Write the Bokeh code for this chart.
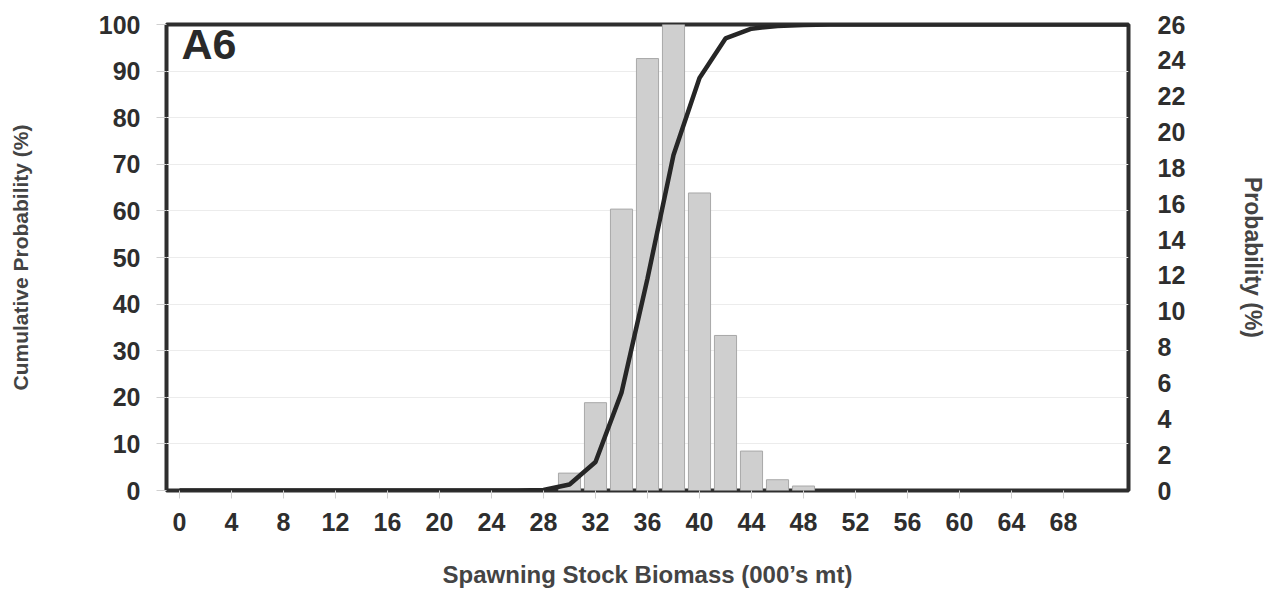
from bokeh.plotting import figure
from bokeh.models import Range1d, LinearAxis, Label, FixedTicker
from bokeh.embed import file_html
from bokeh.resources import INLINE

# ---- data ----
bin_biomass = [30, 32, 34, 36, 38, 40, 42, 44, 46, 48]
probability = [0.97, 4.9, 15.7, 24.1, 26.0, 16.6, 8.65, 2.2, 0.6, 0.25]

cum_biomass = [0, 2, 4, 6, 8, 10, 12, 14, 16, 18, 20, 22, 24, 26, 28, 30, 32, 34, 36, 38,
               40, 42, 44, 46, 48, 50, 52, 54, 56, 58, 60, 62, 64, 66, 68, 70, 72, 73]
cum_prob = [0, 0, 0, 0, 0, 0, 0, 0, 0, 0, 0, 0, 0, 0, 0.1, 1.3, 6.1, 21.0, 45.5, 72.0,
            88.5, 97.0, 99.1, 99.7, 99.9, 100, 100, 100, 100, 100, 100, 100, 100, 100, 100, 100, 100, 100]

x_ticks = list(range(0, 69, 4))
left_ticks = list(range(0, 101, 10))
right_ticks = list(range(0, 27, 2))

panel_label = "A6"
x_title = "Spawning Stock Biomass (000\u2019s mt)"
left_title = "Cumulative Probability (%)"
right_title = "Probability (%)"

FONT = "Liberation Sans"
TXT = "#2e2e2e"

p = figure(width=1276, height=598, output_backend="svg", toolbar_location=None,
           x_range=Range1d(-1, 73), y_range=Range1d(0, 100),
           min_border_left=166, min_border_right=148, min_border_top=24, min_border_bottom=108)
p.extra_y_ranges = {"prob": Range1d(0, 26)}

p.outline_line_color = "#2e2e2e"
p.outline_line_width = 4
p.xgrid.grid_line_color = None
p.ygrid.grid_line_color = "#ececec"
p.ygrid.ticker = FixedTicker(ticks=left_ticks)
p.background_fill_color = "white"
p.border_fill_color = "white"

# bars
p.vbar(x=bin_biomass, top=probability, width=1.7, bottom=0, y_range_name="prob",
       fill_color="#cfcfcf", line_color="#a8a8a8", line_width=1)

# cumulative line
p.line(cum_biomass, cum_prob, line_color="#262626", line_width=4.5)

# axes styling
def style(ax, size="25px", title_size="24px"):
    ax.axis_line_color = None
    ax.major_label_text_font = FONT
    ax.major_label_text_font_style = "bold"
    ax.major_label_text_font_size = size
    ax.major_label_text_color = TXT
    ax.minor_tick_line_color = None
    ax.axis_label_text_font = FONT
    ax.axis_label_text_font_style = "bold"
    ax.axis_label_text_font_size = title_size
    ax.axis_label_text_color = "#444444"

xa = p.xaxis[0]
style(xa, title_size="24px")
xa.ticker = FixedTicker(ticks=x_ticks)
xa.major_tick_line_color = "#d0d0d0"
xa.major_tick_out = 8
xa.major_tick_in = 0
xa.major_label_standoff = 14
xa.axis_label = x_title
xa.axis_label_standoff = 27

ya = p.yaxis[0]
style(ya, title_size="21px")
ya.ticker = FixedTicker(ticks=left_ticks)
ya.major_tick_line_color = "#d0d0d0"
ya.major_tick_out = 10
ya.major_tick_in = 0
ya.major_label_standoff = 16
ya.axis_label = left_title
ya.axis_label_standoff = 64

ra = LinearAxis(y_range_name="prob")
style(ra, title_size="23px")
ra.ticker = FixedTicker(ticks=right_ticks)
ra.major_tick_line_color = None
ra.major_tick_out = 0
ra.major_tick_in = 0
ra.major_label_standoff = 29
ra.axis_label = right_title
ra.axis_label_standoff = 52
p.add_layout(ra, "right")

p.add_layout(Label(x=15, y=447, x_units="screen", y_units="screen", text=panel_label,
                   text_font=FONT, text_font_style="bold", text_font_size="43px",
                   text_color="#2a2a2a", text_baseline="alphabetic"))

open("out.html", "w").write(file_html(p, INLINE))
